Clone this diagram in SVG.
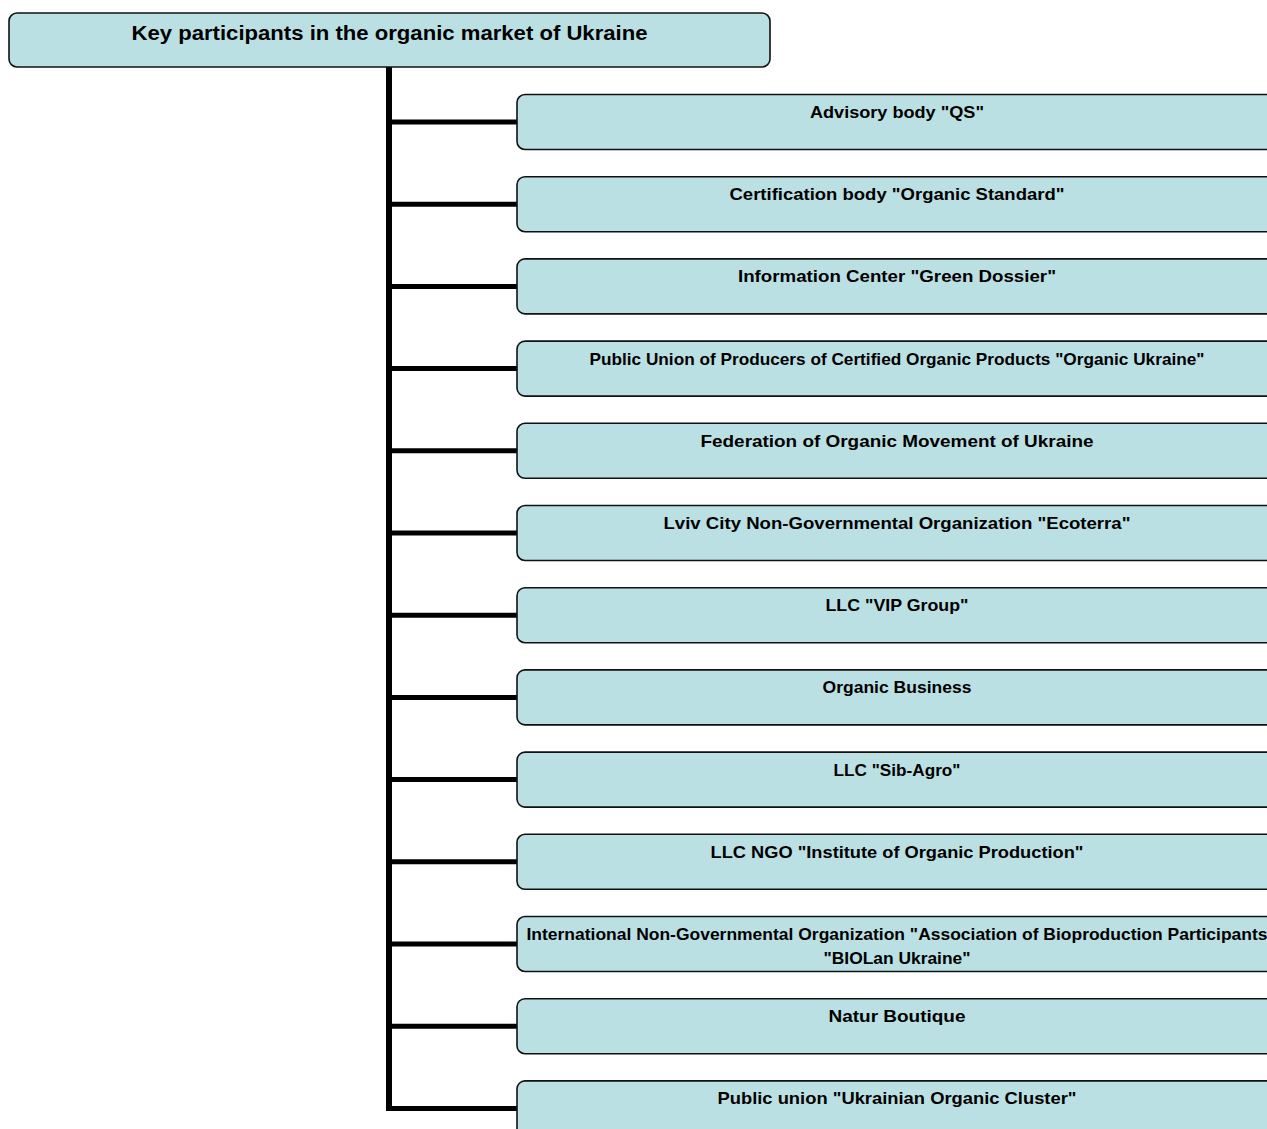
<svg xmlns="http://www.w3.org/2000/svg" width="1267" height="1129" viewBox="0 0 1267 1129">
<style>
.box{fill:#BBE0E3;stroke:#111;stroke-width:1.6}
.t{font-family:"Liberation Sans",Arial,sans-serif;font-weight:bold;font-size:17px;fill:#000;text-anchor:middle}
.tt{font-size:20px}
.c{stroke:#000;fill:none}
</style>
<rect width="1267" height="1129" fill="#fff"/>
<g id="connectors">
<line class="c" x1="389" y1="67" x2="389" y2="1110.5" stroke-width="6"/>
<g stroke-width="5">
<line class="c" x1="386" y1="122" x2="517" y2="122"/>
<line class="c" x1="389" y1="204.2" x2="517" y2="204.2"/>
<line class="c" x1="389" y1="286.4" x2="517" y2="286.4"/>
<line class="c" x1="389" y1="368.6" x2="517" y2="368.6"/>
<line class="c" x1="389" y1="450.8" x2="517" y2="450.8"/>
<line class="c" x1="389" y1="533" x2="517" y2="533"/>
<line class="c" x1="389" y1="615.2" x2="517" y2="615.2"/>
<line class="c" x1="389" y1="697.4" x2="517" y2="697.4"/>
<line class="c" x1="389" y1="779.6" x2="517" y2="779.6"/>
<line class="c" x1="389" y1="861.8" x2="517" y2="861.8"/>
<line class="c" x1="389" y1="944" x2="517" y2="944"/>
<line class="c" x1="389" y1="1026.2" x2="517" y2="1026.2"/>
<line class="c" x1="386" y1="1108.4" x2="517" y2="1108.4"/>
</g>
</g>
<g id="title">
<rect class="box" x="9" y="13" width="761" height="54" rx="8"/>
<text class="t tt" x="389.5" y="39.5" textLength="516" lengthAdjust="spacingAndGlyphs">Key participants in the organic market of Ukraine</text>
</g>
<g id="n1"><rect class="box" x="517" y="94.5" width="770" height="55" rx="8"/><text class="t" x="897" y="118" textLength="174" lengthAdjust="spacingAndGlyphs">Advisory body "QS"</text></g>
<g id="n2"><rect class="box" x="517" y="176.7" width="770" height="55" rx="8"/><text class="t" x="897" y="200.2" textLength="335" lengthAdjust="spacingAndGlyphs">Certification body "Organic Standard"</text></g>
<g id="n3"><rect class="box" x="517" y="258.9" width="770" height="55" rx="8"/><text class="t" x="897" y="282.4" textLength="318" lengthAdjust="spacingAndGlyphs">Information Center "Green Dossier"</text></g>
<g id="n4"><rect class="box" x="517" y="341.1" width="770" height="55" rx="8"/><text class="t" x="897" y="364.6" font-size="16" textLength="615" lengthAdjust="spacingAndGlyphs">Public Union of Producers of Certified Organic Products "Organic Ukraine"</text></g>
<g id="n5"><rect class="box" x="517" y="423.3" width="770" height="55" rx="8"/><text class="t" x="897" y="446.8" textLength="393" lengthAdjust="spacingAndGlyphs">Federation of Organic Movement of Ukraine</text></g>
<g id="n6"><rect class="box" x="517" y="505.5" width="770" height="55" rx="8"/><text class="t" x="897" y="529" textLength="467" lengthAdjust="spacingAndGlyphs">Lviv City Non-Governmental Organization "Ecoterra"</text></g>
<g id="n7"><rect class="box" x="517" y="587.7" width="770" height="55" rx="8"/><text class="t" x="897" y="611.2" textLength="143" lengthAdjust="spacingAndGlyphs">LLC "VIP Group"</text></g>
<g id="n8"><rect class="box" x="517" y="669.9" width="770" height="55" rx="8"/><text class="t" x="897" y="693.4" textLength="149" lengthAdjust="spacingAndGlyphs">Organic Business</text></g>
<g id="n9"><rect class="box" x="517" y="752.1" width="770" height="55" rx="8"/><text class="t" x="897" y="775.6" textLength="127" lengthAdjust="spacingAndGlyphs">LLC "Sib-Agro"</text></g>
<g id="n10"><rect class="box" x="517" y="834.3" width="770" height="55" rx="8"/><text class="t" x="897" y="857.8" textLength="373" lengthAdjust="spacingAndGlyphs">LLC NGO "Institute of Organic Production"</text></g>
<g id="n11"><rect class="box" x="517" y="916.5" width="770" height="55" rx="8"/><text class="t" x="897" y="940" textLength="741" lengthAdjust="spacingAndGlyphs">International Non-Governmental Organization "Association of Bioproduction Participants</text><text class="t" x="897" y="963.5" textLength="147" lengthAdjust="spacingAndGlyphs">"BIOLan Ukraine"</text></g>
<g id="n12"><rect class="box" x="517" y="998.7" width="770" height="55" rx="8"/><text class="t" x="897" y="1022.2" textLength="137" lengthAdjust="spacingAndGlyphs">Natur Boutique</text></g>
<g id="n13"><rect class="box" x="517" y="1080.9" width="770" height="55" rx="8"/><text class="t" x="897" y="1104.4" textLength="359" lengthAdjust="spacingAndGlyphs">Public union "Ukrainian Organic Cluster"</text></g>
</svg>
